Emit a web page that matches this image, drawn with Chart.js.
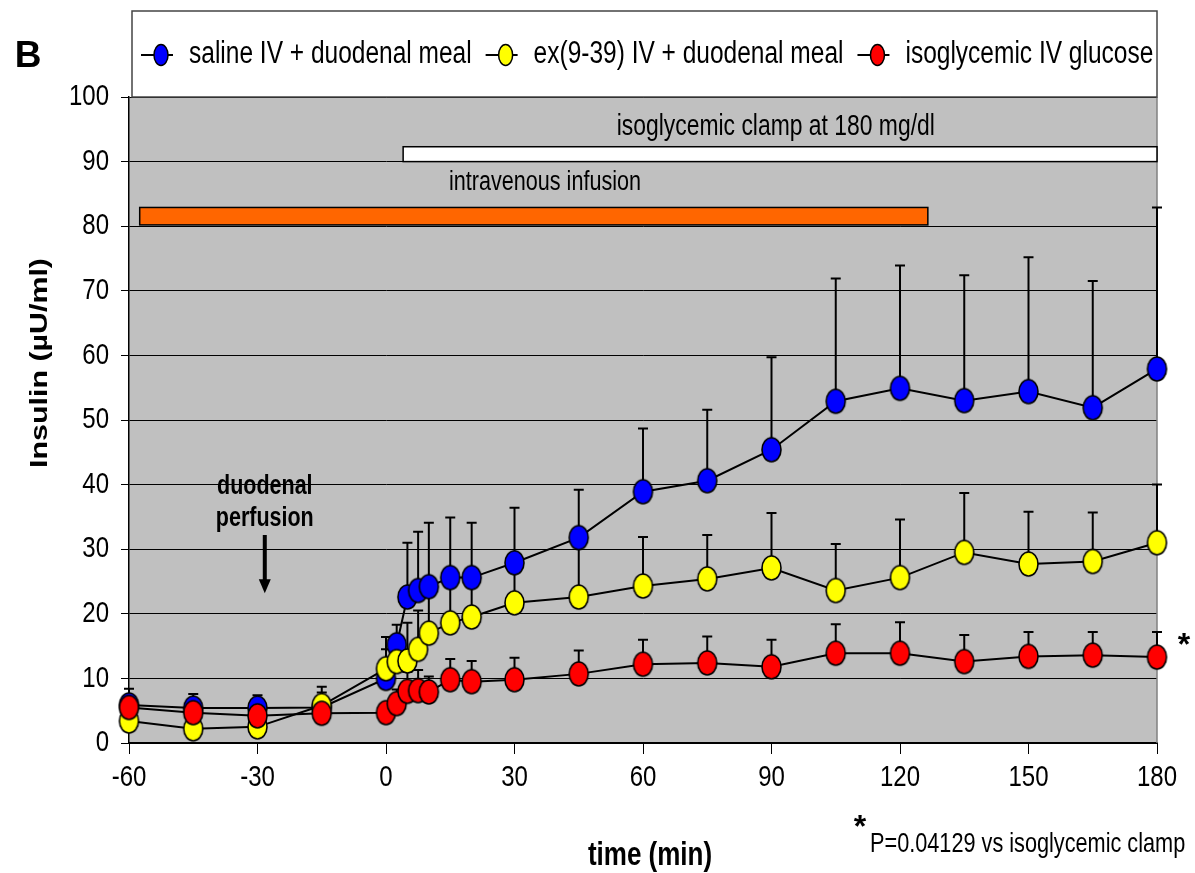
<!DOCTYPE html>
<html>
<head>
<meta charset="utf-8">
<script src="https://cdn.jsdelivr.net/npm/chart.js@4.4.1/dist/chart.umd.min.js"></script>
<style>
  body { margin: 0; background: #fff; }
  canvas { display: block; }
</style>
</head>
<body>
<canvas id="myChart" width="1195" height="873"></canvas>
<script>
// sampling times (min)
const times = [-60, -45, -30, -15, 0, 2.5, 5, 7.5, 10, 15, 20, 30, 45, 60, 75, 90, 105, 120, 135, 150, 165, 180];

// insulin means and SEM (µU/ml)
const salineMeal = [5.9, 5.4, 5.4, 5.5, 10.0, 15.2, 22.6, 23.6, 24.2, 25.6, 25.6, 27.9, 31.8, 38.9, 40.6, 45.4, 52.9, 54.9, 53.0, 54.4, 51.9, 57.9];
const salineSem = [2.5, 2.2, 2.0, 3.2, 4.5, 3.1, 8.4, 9.1, 9.9, 9.3, 8.5, 8.5, 7.4, 9.8, 11.0, 14.3, 19.0, 19.0, 19.4, 20.8, 19.6, 25.0];

const exMeal = [3.4, 2.2, 2.5, 5.8, 11.5, 12.6, 12.7, 14.5, 17.0, 18.6, 19.5, 21.7, 22.6, 24.3, 25.4, 27.1, 23.6, 25.6, 29.5, 27.7, 28.1, 31.0];
const exSem = [1.5, 1.0, 1.0, 2.0, 4.9, 3.0, 5.9, 6.0, 6.5, 6.0, 6.0, 6.5, 8.5, 7.6, 6.8, 8.5, 7.2, 9.0, 9.2, 8.1, 7.6, 9.0];

const ivGlucose = [5.5, 4.7, 4.2, 4.6, 4.7, 6.1, 8.0, 8.1, 7.9, 9.8, 9.5, 9.8, 10.7, 12.2, 12.4, 11.8, 13.9, 13.9, 12.6, 13.4, 13.6, 13.3];
const ivSem = [0.8, 0.6, 0.8, 0.8, 1.0, 2.2, 3.0, 3.2, 2.4, 3.2, 3.2, 3.4, 3.6, 3.8, 4.1, 4.2, 4.5, 4.8, 4.1, 3.8, 3.6, 3.9];

const seriesNames = ["saline IV + duodenal meal", "ex(9-39) IV + duodenal meal", "isoglycemic IV glucose"];
const seriesColors = ["#0000ff", "#ffff00", "#ff0000"];

const xTicks = [-60, -30, 0, 30, 60, 90, 120, 150, 180];
const yTicks = [0, 10, 20, 30, 40, 50, 60, 70, 80, 90, 100];

// protocol bars: [from min, to min, low, high]
const clampBar = [4, 180, 90, 92.3];
const infusionBar = [-57.5, 126.5, 80.2, 82.9];
// duodenal perfusion arrow: [time, from, to]
const perfusionArrow = [-28.3, 32.2, 23.2];

const FONT = '"Liberation Sans", Arial, sans-serif';
const SY = 1.25; // the original figure is stretched vertically

function ellipseImg(fill, w, h) {
  const c = document.createElement("canvas");
  c.width = w + 4;
  c.height = h + 4;
  const g = c.getContext("2d");
  g.beginPath();
  g.ellipse(c.width / 2, c.height / 2, w / 2, h / 2, 0, 0, Math.PI * 2);
  g.fillStyle = fill;
  g.fill();
  g.lineWidth = 1.6;
  g.strokeStyle = "#000";
  g.stroke();
  return c;
}

function txt(ctx, s, x, y, size, opts = {}) {
  ctx.save();
  ctx.translate(x, y);
  if (opts.rotate) ctx.rotate(opts.rotate);
  ctx.scale(opts.sx || 1, opts.sy || SY);
  ctx.font = `${opts.bold ? "bold " : ""}${size}px ${FONT}`;
  ctx.fillStyle = "#000";
  ctx.textAlign = opts.align || "left";
  ctx.textBaseline = "middle";
  ctx.fillText(s, 0, 0);
  ctx.restore();
}

function toPts(vals) {
  return vals.map((v, i) => ({ x: times[i], y: v }));
}

const sems = [salineSem, exSem, ivSem];
const means = [salineMeal, exMeal, ivGlucose];

const decor = {
  id: "decor",
  beforeDraw(chart) {
    const { ctx, chartArea: a } = chart;
    ctx.save();
    ctx.fillStyle = "#fff";
    ctx.fillRect(0, 0, chart.width, chart.height);
    ctx.fillStyle = "#c0c0c0";
    ctx.fillRect(a.left, a.top, a.right - a.left, a.bottom - a.top);
    ctx.restore();
  },
  beforeDatasetsDraw(chart) {
    const { ctx, chartArea: a } = chart;
    const xs = chart.scales.x, ys = chart.scales.y;
    ctx.save();
    // right border of plot
    ctx.strokeStyle = "#808080";
    ctx.lineWidth = 1.5;
    ctx.beginPath();
    ctx.moveTo(a.right, a.top);
    ctx.lineTo(a.right, a.bottom);
    ctx.stroke();
    // protocol bars
    [[clampBar, "#ffffff"], [infusionBar, "#ff6600"]].forEach(([b, col]) => {
      const x0 = xs.getPixelForValue(b[0]), x1 = xs.getPixelForValue(b[1]);
      const y0 = ys.getPixelForValue(b[3]), y1 = ys.getPixelForValue(b[2]);
      ctx.fillStyle = col;
      ctx.fillRect(x0, y0, x1 - x0, y1 - y0);
      ctx.lineWidth = 1.5;
      ctx.strokeStyle = "#000";
      ctx.strokeRect(x0, y0, x1 - x0, y1 - y0);
    });
    // error bars (upper only)
    ctx.strokeStyle = "#000";
    ctx.lineWidth = 2;
    means.forEach((m, k) => {
      m.forEach((v, i) => {
        const x = xs.getPixelForValue(times[i]);
        const y0 = ys.getPixelForValue(v);
        const y1 = ys.getPixelForValue(v + sems[k][i]);
        ctx.beginPath();
        ctx.moveTo(x, y0);
        ctx.lineTo(x, y1);
        ctx.moveTo(x - 5, y1);
        ctx.lineTo(x + 5, y1);
        ctx.stroke();
      });
    });
    ctx.restore();
  },
  afterDraw(chart) {
    const { ctx, chartArea: a } = chart;
    const xs = chart.scales.x, ys = chart.scales.y;
    ctx.save();

    // tick labels
    yTicks.forEach(v => txt(ctx, String(v), 109, ys.getPixelForValue(v), 24, { align: "right" }));
    xTicks.forEach(v => txt(ctx, String(v), xs.getPixelForValue(v), 778, 24, { align: "center" }));

    // axis titles
    txt(ctx, "time (min)", 650, 856, 26, { bold: true, align: "center" });
    txt(ctx, "Insulin (µU/ml)", 40, 363, 24.5, { bold: true, align: "center", rotate: -Math.PI / 2, sx: 1.24, sy: 1 });

    // panel letter
    txt(ctx, "B", 28, 57, 37, { bold: true, align: "center", sy: 1 });

    // legend box
    ctx.fillStyle = "#fff";
    ctx.fillRect(132, 11, a.right - 132, a.top - 11);
    ctx.strokeStyle = "#444";
    ctx.lineWidth = 1.5;
    ctx.strokeRect(132, 11, a.right - 132, a.top - 11);
    ctx.font = `24.5px ${FONT}`;
    let lx = 141;
    const ly = 55;
    seriesNames.forEach((name, k) => {
      ctx.strokeStyle = "#000";
      ctx.lineWidth = 2;
      ctx.beginPath();
      ctx.moveTo(lx, ly);
      ctx.lineTo(lx + 32, ly);
      ctx.stroke();
      ctx.beginPath();
      ctx.ellipse(lx + 20, ly, 7, 10.5, 0, 0, Math.PI * 2);
      ctx.fillStyle = seriesColors[k];
      ctx.fill();
      ctx.lineWidth = 1.5;
      ctx.stroke();
      txt(ctx, name, lx + 48, ly, 24.5);
      ctx.font = `24.5px ${FONT}`;
      lx += 48 + ctx.measureText(name).width + 14;
    });

    // protocol annotations
    txt(ctx, "isoglycemic clamp at 180 mg/dl", xs.getPixelForValue(91), ys.getPixelForValue(95.3), 22.9, { align: "center" });
    txt(ctx, "intravenous infusion", xs.getPixelForValue(14.7), ys.getPixelForValue(86.8), 21.6);

    // duodenal perfusion arrow
    const ax = xs.getPixelForValue(perfusionArrow[0]);
    const ay0 = ys.getPixelForValue(perfusionArrow[1]);
    const ay1 = ys.getPixelForValue(perfusionArrow[2]);
    txt(ctx, "duodenal", ax, 487, 21.5, { bold: true, align: "center" });
    txt(ctx, "perfusion", ax, 519, 21.5, { bold: true, align: "center" });
    ctx.strokeStyle = "#000";
    ctx.fillStyle = "#000";
    ctx.lineWidth = 4;
    ctx.beginPath();
    ctx.moveTo(ax, ay0);
    ctx.lineTo(ax, ay1 - 12);
    ctx.stroke();
    ctx.beginPath();
    ctx.moveTo(ax - 6, ay1 - 14);
    ctx.lineTo(ax + 6, ay1 - 14);
    ctx.lineTo(ax, ay1);
    ctx.closePath();
    ctx.fill();

    // significance marks
    txt(ctx, "*", 1184, 646, 32, { bold: true, align: "center", sy: 1 });
    txt(ctx, "*", 860, 828, 32, { bold: true, align: "center", sy: 1 });
    txt(ctx, "P=0.04129 vs isoglycemic clamp", 870, 845, 21.7);
    ctx.restore();
  }
};

const ctx = document.getElementById("myChart").getContext("2d");
const myChart = new Chart(ctx, {
  type: "line",
  data: {
    datasets: [
      {
        label: seriesNames[0],
        data: toPts(salineMeal),
        borderColor: "#000",
        borderWidth: 2,
        pointStyle: ellipseImg(seriesColors[0], 19, 24),
        clip: false,
        order: 3,
      },
      {
        label: seriesNames[1],
        data: toPts(exMeal),
        borderColor: "#000",
        borderWidth: 2,
        pointStyle: ellipseImg(seriesColors[1], 19, 24),
        clip: false,
        order: 2,
      },
      {
        label: seriesNames[2],
        data: toPts(ivGlucose),
        borderColor: "#000",
        borderWidth: 2,
        pointStyle: ellipseImg(seriesColors[2], 19, 24),
        clip: false,
        order: 1,
      },
    ],
  },
  options: {
    responsive: false,
    animation: false,
    layout: { padding: { left: 0, right: 38, top: 97, bottom: 0 } },
    plugins: {
      legend: { display: false },
      tooltip: { enabled: false },
    },
    scales: {
      x: {
        type: "linear",
        min: -60,
        max: 180,
        afterBuildTicks: (s) => { s.ticks = xTicks.map(v => ({ value: v })); },
        afterFit: (s) => { s.height = 130; },
        ticks: { display: false },
        grid: { drawOnChartArea: false, drawTicks: true, tickLength: 11, color: "#000", lineWidth: 1 },
        border: { color: "#000", width: 2 },
      },
      y: {
        min: 0,
        max: 100,
        afterBuildTicks: (s) => { s.ticks = yTicks.map(v => ({ value: v })); },
        afterFit: (s) => { s.width = 129; },
        ticks: { display: false },
        grid: { color: "#000", lineWidth: 1, drawTicks: true, tickLength: 8 },
        border: { color: "#000", width: 1.5 },
      },
    },
  },
  plugins: [decor],
});
</script>
</body>
</html>
